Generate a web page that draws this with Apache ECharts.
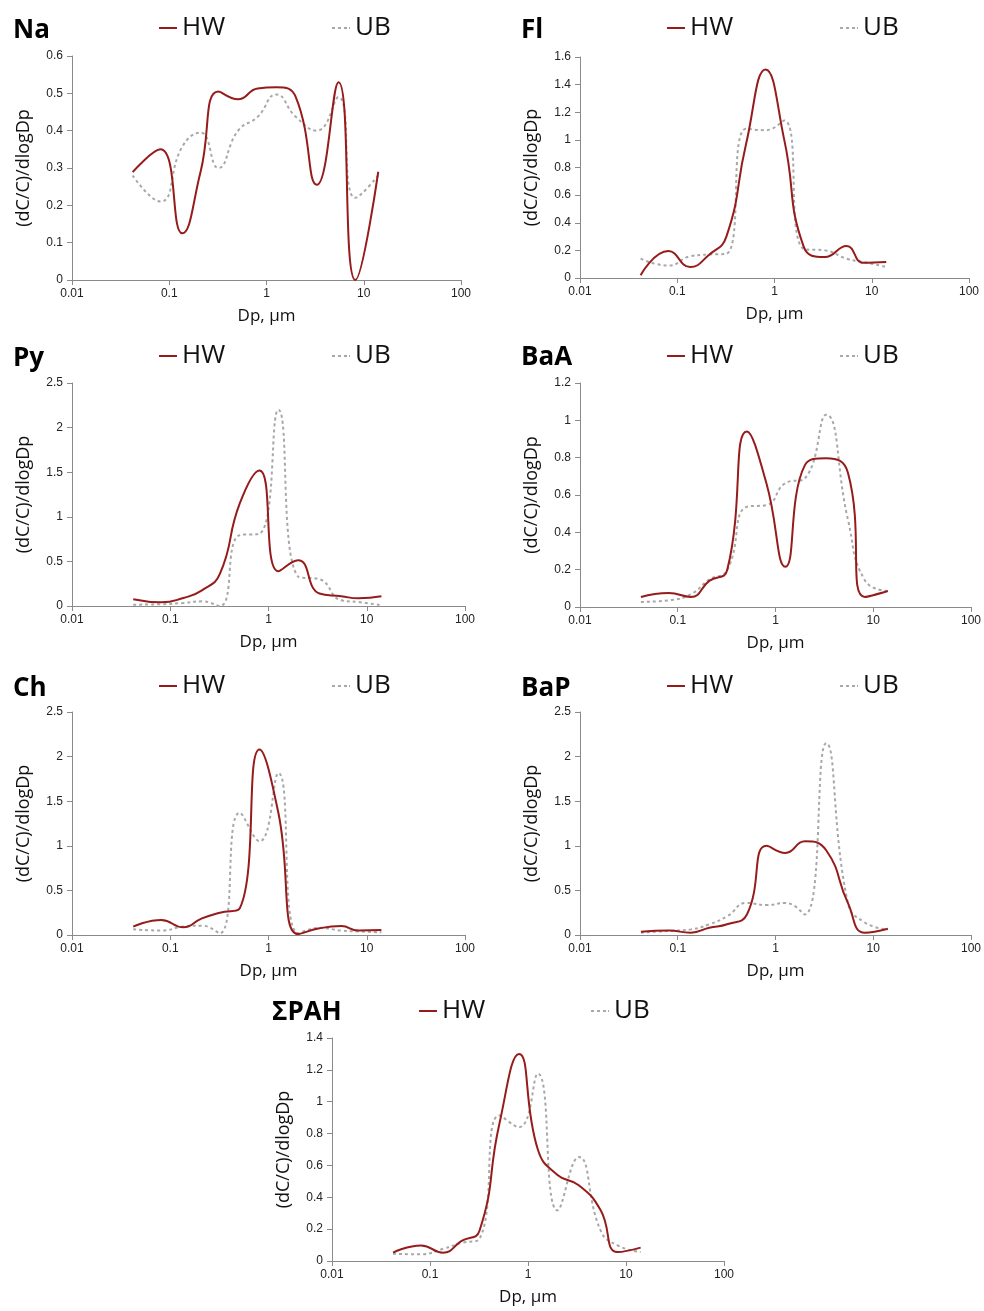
<!DOCTYPE html>
<html>
<head>
<meta charset="utf-8">
<script src="https://cdn.jsdelivr.net/npm/echarts@6/dist/echarts.min.js"></script>
<style>
html,body{margin:0;padding:0;background:#fff;}
#chart{width:984px;height:1311px;}
</style>
</head>
<body>
<div id="chart"></div>
<script>
// Particle diameter (µm) of each size stage
const dp = [0.042, 0.081, 0.136, 0.21, 0.32, 0.51, 0.81, 1.26, 2.0, 3.3, 5.5, 8.2, 14.1];

// Normalised size distributions (dC/C)/dlogDp
const naHW  = [0.289, 0.35, 0.125, 0.29, 0.505, 0.484, 0.513, 0.516, 0.49, 0.255, 0.53, 0.0, 0.29];
const naUB  = [0.28, 0.21, 0.357, 0.395, 0.30, 0.40, 0.437, 0.497, 0.437, 0.40, 0.49, 0.22, 0.28];
const flHW  = [0.02, 0.195, 0.08, 0.165, 0.3, 0.97, 1.51, 1.0, 0.225, 0.152, 0.232, 0.11, 0.116];
const flUB  = [0.14, 0.09, 0.157, 0.17, 0.175, 1.08, 1.07, 1.14, 0.21, 0.2, 0.14, 0.116, 0.08];
const pyHW  = [0.075, 0.041, 0.09, 0.176, 0.36, 1.15, 1.52, 0.39, 0.513, 0.14, 0.11, 0.086, 0.11];
const pyUB  = [0.015, 0.02, 0.034, 0.052, 0.0, 0.795, 0.81, 2.2, 0.33, 0.3, 0.064, 0.045, 0.008];
const baaHW = [0.054, 0.075, 0.054, 0.14, 0.197, 0.94, 0.66, 0.215, 0.76, 0.797, 0.72, 0.054, 0.086];
const baaUB = [0.027, 0.036, 0.068, 0.147, 0.197, 0.537, 0.546, 0.663, 0.69, 1.03, 0.47, 0.143, 0.086];
const chHW  = [0.094, 0.168, 0.086, 0.187, 0.25, 0.3, 2.08, 1.37, 0.01, 0.075, 0.1, 0.05, 0.055];
const chUB  = [0.065, 0.05, 0.094, 0.105, 0.02, 1.37, 1.05, 1.815, 0.02, 0.08, 0.05, 0.04, 0.03];
const bapHW = [0.037, 0.05, 0.026, 0.082, 0.12, 0.23, 1.0, 0.92, 1.05, 0.95, 0.36, 0.026, 0.07];
const bapUB = [0.026, 0.045, 0.063, 0.12, 0.21, 0.36, 0.335, 0.36, 0.23, 2.15, 0.36, 0.14, 0.063];
const pahHW = [0.052, 0.098, 0.052, 0.126, 0.19, 0.86, 1.3, 0.7, 0.54, 0.475, 0.32, 0.056, 0.084];
const pahUB = [0.046, 0.042, 0.077, 0.113, 0.14, 0.914, 0.84, 1.176, 0.318, 0.653, 0.192, 0.098, 0.056];

// Panel names and y-axis ranges
const panelNames = ['Na', 'Fl', 'Py', 'BaA', 'Ch', 'BaP', 'ΣPAH'];
const yMax      = [0.6, 1.6, 2.5, 1.2, 2.5, 2.5, 1.4];
const yStep     = [0.1, 0.2, 0.5, 0.2, 0.5, 0.5, 0.2];
const xTicks    = [0.01, 0.1, 1, 10, 100];
const seriesHW  = [naHW, flHW, pyHW, baaHW, chHW, bapHW, pahHW];
const seriesUB  = [naUB, flUB, pyUB, baaUB, chUB, bapUB, pahUB];

// Layout (pixels)
const layout = [
  {l: 72,  t: 56,   w: 389, h: 224, tx: 13,  ty: 18,  hx: 159, ux: 332, ly: 15},
  {l: 580, t: 57,   w: 389, h: 221, tx: 521, ty: 18,  hx: 667, ux: 840, ly: 15},
  {l: 72,  t: 383,  w: 393, h: 223, tx: 13,  ty: 346, hx: 159, ux: 332, ly: 343},
  {l: 580, t: 383,  w: 393, h: 224, tx: 521, ty: 345, hx: 667, ux: 840, ly: 343},
  {l: 72,  t: 712,  w: 393, h: 223, tx: 13,  ty: 676, hx: 159, ux: 332, ly: 673},
  {l: 580, t: 712,  w: 393, h: 223, tx: 521, ty: 676, hx: 667, ux: 840, ly: 673},
  {l: 332, t: 1038, w: 392, h: 223, tx: 272, ty: 1000, hx: 419, ux: 591, ly: 998}
];

const HW_COLOR = '#961b1b';
const UB_COLOR = '#a8a8a8';
const AXIS_COLOR = '#8a8a8a';
const TXT = 'Open Sans';
const ICON_SOLID = 'path://M0,0H18V2H0Z';
const ICON_DASH = 'path://M0,0H3V2H0Z M6,0H9V2H6Z M12,0H15V2H12Z M17,0H18V2H17Z';

const option = {
  animation: false,
  backgroundColor: '#ffffff',
  title: [], legend: [], grid: [], xAxis: [], yAxis: [], series: []
};

layout.forEach((L, i) => {
  option.title.push({
    text: panelNames[i], left: L.tx, top: L.ty, padding: 0,
    textStyle: {fontFamily: TXT, fontWeight: 'bold', fontSize: 26, color: '#000'}
  });
  const legendBase = {
    top: L.ly, padding: 0, itemWidth: 18, itemHeight: 2, selectedMode: false,
    textStyle: {fontFamily: TXT, fontSize: 26, color: '#111'}
  };
  option.legend.push(Object.assign({data: [{name: 'HW', icon: ICON_SOLID}], left: L.hx}, legendBase));
  option.legend.push(Object.assign({data: [{name: 'UB', icon: ICON_DASH}], left: L.ux}, legendBase));

  option.grid.push({left: L.l, top: L.t, width: L.w, height: L.h});
  option.xAxis.push({
    gridIndex: i, type: 'log', logBase: 10, min: xTicks[0], max: xTicks[xTicks.length - 1],
    axisLine: {show: true, lineStyle: {color: AXIS_COLOR, width: 1}},
    axisTick: {show: true, length: 5, lineStyle: {color: AXIS_COLOR}},
    splitLine: {show: false}, minorTick: {show: false},
    axisLabel: {
      fontFamily: 'Liberation Sans', fontSize: 12, color: '#222', margin: 8,
      formatter: v => String(+Number(v).toPrecision(3))
    },
    name: 'Dp, µm', nameLocation: 'middle', nameGap: 28,
    nameTextStyle: {fontFamily: TXT, fontSize: 17, color: '#111'}
  });
  option.yAxis.push({
    gridIndex: i, type: 'value', min: 0, max: yMax[i], interval: yStep[i],
    axisLine: {show: true, lineStyle: {color: AXIS_COLOR, width: 1}},
    axisTick: {show: true, length: 5, lineStyle: {color: AXIS_COLOR}},
    splitLine: {show: false},
    axisLabel: {fontFamily: 'Liberation Sans', fontSize: 12, color: '#222', margin: 9},
    name: '(dC/C)/dlogDp', nameLocation: 'middle', nameGap: 39, nameRotate: 90,
    nameTextStyle: {fontFamily: TXT, fontSize: 18, color: '#111'}
  });
  option.series.push({
    name: 'UB', type: 'line', xAxisIndex: i, yAxisIndex: i,
    data: dp.map((d, k) => [d, seriesUB[i][k]]),
    smooth: 0.5, symbol: 'none', z: 2,
    lineStyle: {color: UB_COLOR, width: 2, type: [3, 3]},
    itemStyle: {color: UB_COLOR}
  });
  option.series.push({
    name: 'HW', type: 'line', xAxisIndex: i, yAxisIndex: i,
    data: dp.map((d, k) => [d, seriesHW[i][k]]),
    smooth: 0.5, symbol: 'none', z: 3,
    lineStyle: {color: HW_COLOR, width: 2},
    itemStyle: {color: HW_COLOR}
  });
});

const chart = echarts.init(document.getElementById('chart'), null, {renderer: 'canvas'});
chart.setOption(option);
</script>
</body>
</html>
